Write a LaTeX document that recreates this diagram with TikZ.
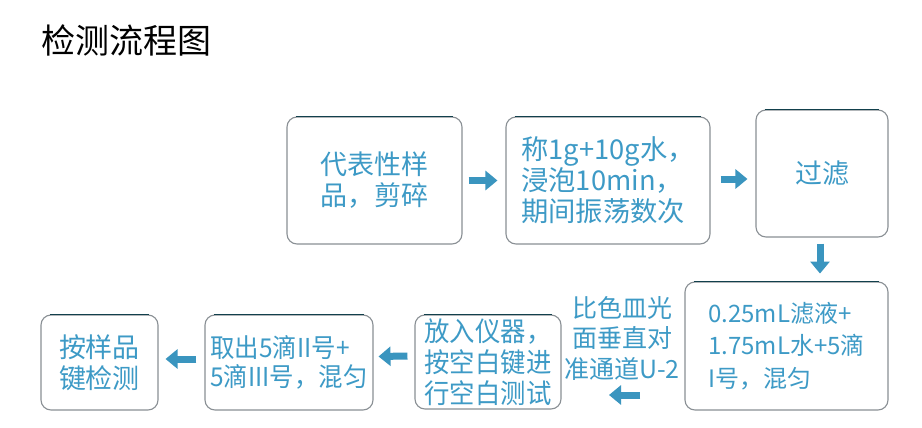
\documentclass[tikz,border=0pt]{standalone}
\usepackage{fontspec}
\setmainfont{Noto Sans CJK SC}
\newfontfamily\condfont[FakeStretch=0.94]{Noto Sans CJK SC}
\newfontfamily\narrowfont[FakeStretch=0.94]{Noto Sans CJK SC}
\usetikzlibrary{arrows.meta}
\definecolor{txtblue}{HTML}{3D9AC6}
\definecolor{arrblue}{HTML}{3A95BF}
\definecolor{bordergray}{HTML}{8A9095}
\definecolor{topedge}{HTML}{12404C}
\tikzset{
  box/.style={draw=bordergray, line width=1.1pt, rounded corners=10pt, text=txtblue,
    font=\fontsize{27}{31}\selectfont, inner sep=0pt},
  blockarrow/.style={draw=arrblue, line width=7pt,
    -{Triangle[width=19pt,length=12pt]}, shorten >=0pt},
  lbl/.style={text=txtblue, font=\fontsize{25}{30.5}\selectfont, inner sep=0pt, align=center},
}
\newcommand{\topline}[1]{\draw[topedge, line width=1.1pt] ([xshift=10pt]#1.north west) -- ([xshift=-10pt]#1.north east);}
\begin{document}
\begin{tikzpicture}[x=1pt,y=-1pt]
\useasboundingbox[fill=white] (0,0) rectangle (922,428);
\node[anchor=west, font=\fontsize{34}{38}\selectfont, inner sep=0pt] (title) at (41,40) {检测流程图};

\node[box, minimum width=175pt, minimum height=127pt, align=center] (b1) at (374.5,180.5) {代表性样\\品，剪碎};
\node[box, minimum width=204pt, minimum height=127pt, align=left, font=\fontsize{27.3}{31}\selectfont] (b2) at (608,180.5) {称1g+10g水，\\浸泡10min，\\期间振荡数次};
\node[box, minimum width=132pt, minimum height=127pt, align=center] (b3) at (822,173.5) {过滤};
\node[box, minimum width=203pt, minimum height=128pt, align=left, font=\fontsize{24}{32.5}\selectfont] (b4) at (786.5,346) {0.25mL滤液+\\1.75mL水+5滴\\I号，混匀};
\node[box, minimum width=146pt, minimum height=94pt, align=left, font=\narrowfont\fontsize{27}{31}\selectfont] (b5) at (488,362) {放入仪器，\\按空白键进\\行空白测试};
\node[box, minimum width=168pt, minimum height=95pt, align=left, font=\condfont\fontsize{26}{29}\selectfont] (b6) at (289,362.5) {取出5滴II号+\\5滴III号，混匀};
\node[box, minimum width=117pt, minimum height=95pt, align=center] (b7) at (99.5,362.5) {按样品\\键检测};
\node[lbl] (note) at (622,338) {比色皿光\\面垂直对\\准通道U-2};

\foreach \n in {b1,b2,b3,b4,b5,b6,b7} {\topline{\n}}

\coordinate (a45s) at (640,395);
\coordinate (a45e) at (609,395);
\draw[blockarrow] ([xshift=6pt]b1.east) -- ([xshift=-8pt]b2.west);
\draw[blockarrow] ([xshift=10pt,yshift=1.5pt]b2.east) -- ([xshift=-8pt,yshift=-5.5pt]b3.west);
\draw[blockarrow] ([yshift=-6pt,xshift=-2pt]b3.south) -- ([yshift=-36pt,xshift=-2pt]b3.south);
\draw[blockarrow] (a45s) -- (a45e);
\draw[blockarrow] ([xshift=-7pt,yshift=6pt]b5.west) -- ([xshift=5pt,yshift=6pt]b6.east);
\draw[blockarrow] ([xshift=-8pt,yshift=3.5pt]b6.west) -- ([xshift=7pt,yshift=3.5pt]b7.east);
\end{tikzpicture}
\end{document}
